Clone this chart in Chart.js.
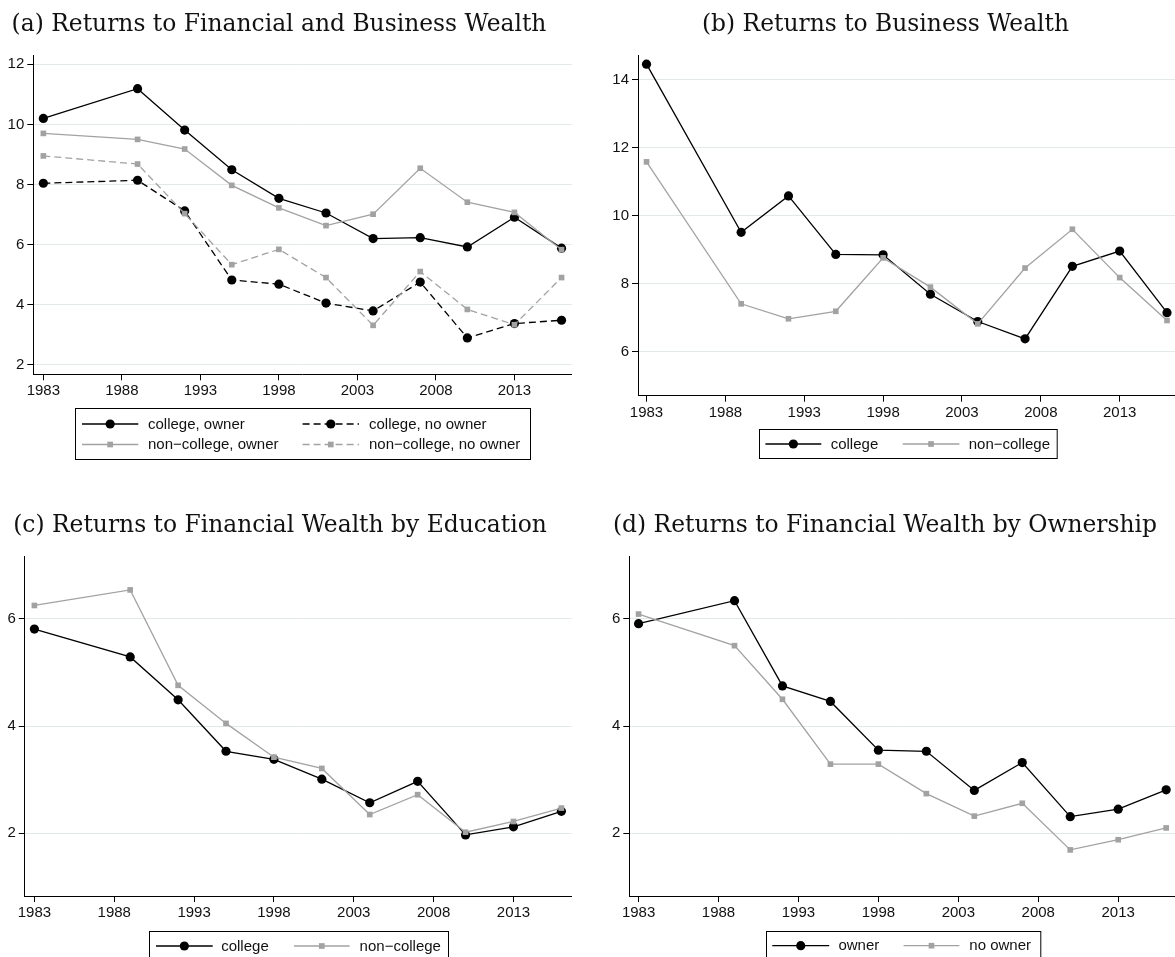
<!DOCTYPE html>
<html><head><meta charset="utf-8">
<script src="https://cdn.jsdelivr.net/npm/chart.js@4.4.0/dist/chart.umd.min.js"></script>
<style>
html,body{margin:0;padding:0;background:#fff;overflow:hidden;width:1175px;height:957px;position:relative;}
canvas.pane{position:absolute;}
</style></head><body>
<canvas id="ca" class="pane" style="left:0;top:0;width:590px;height:480px" width="590" height="480"></canvas>
<canvas id="cb" class="pane" style="left:590px;top:0;width:600px;height:480px" width="600" height="480"></canvas>
<canvas id="cc" class="pane" style="left:0;top:480px;width:590px;height:477px" width="590" height="477"></canvas>
<canvas id="cd" class="pane" style="left:590px;top:480px;width:600px;height:477px" width="600" height="477"></canvas>
<script>
// ---------- data ----------
const years = [1983,1989,1992,1995,1998,2001,2004,2007,2010,2013,2016];
const xTicks = [1983,1988,1993,1998,2003,2008,2013];

// (a) Returns to Financial and Business Wealth
const aCollegeOwner      = [10.20,11.19,9.81,8.49,7.54,7.05,6.20,6.23,5.92,6.91,5.88];
const aCollegeNoOwner    = [8.04,8.14,7.12,4.82,4.68,4.05,3.79,4.75,2.89,3.37,3.48];
const aNonCollegeOwner   = [9.70,9.50,9.18,7.97,7.22,6.63,7.01,8.54,7.41,7.07,5.83];
const aNonCollegeNoOwner = [8.95,8.68,7.03,5.33,5.84,4.90,3.31,5.10,3.84,3.33,4.90];
const aYTicks = [2,4,6,8,10,12];

// (b) Returns to Business Wealth
const bCollege    = [14.45,9.51,10.58,8.86,8.85,7.69,6.89,6.38,8.51,8.96,7.15];
const bNonCollege = [11.58,7.41,6.97,7.19,8.76,7.90,6.82,8.46,9.60,8.18,6.92];
const bYTicks = [6,8,10,12,14];

// (c) Returns to Financial Wealth by Education
const cCollege    = [5.81,5.29,4.49,3.53,3.38,3.01,2.57,2.97,1.97,2.12,2.41];
const cNonCollege = [6.25,6.54,4.76,4.05,3.42,3.21,2.35,2.72,2.02,2.22,2.47];
const cYTicks = [2,4,6];

// (d) Returns to Financial Wealth by Ownership
const dOwner   = [5.91,6.34,4.75,4.46,3.55,3.53,2.80,3.32,2.31,2.45,2.81];
const dNoOwner = [6.09,5.50,4.50,3.29,3.29,2.74,2.32,2.56,1.69,1.88,2.10];
const dYTicks = [2,4,6];

// ---------- styling ----------
const BLACK = '#000000', GRAY = '#a2a2a2';
const SANS = '"Liberation Sans", Arial, Helvetica, sans-serif';
const SERIF = '"DejaVu Serif", serif';

function series(label, vals, black, dashed){
  const c = black ? BLACK : GRAY;
  return {
    label, data: years.map((x,i)=>({x:x, y:vals[i]})),
    borderColor:c, backgroundColor:c, borderWidth:1.3,
    borderDash: dashed ? [7,4] : [],
    pointStyle: black ? 'circle' : 'rect',
    pointRadius: black ? 4.6 : 4.0, pointHoverRadius: black ? 4.6 : 4.0,
    pointBorderWidth:0, pointBackgroundColor:c,
    tension:0, order: black ? 1 : 0, clip:false
  };
}

function scales(xMin, xMax, yMin, yMax, yTicks, yWidth){
  return {
    x:{type:'linear', min:xMin, max:xMax,
      afterBuildTicks:s=>{ s.ticks = xTicks.map(v=>({value:v})); },
      afterFit:s=>{ s.height = 30; },
      grid:{drawOnChartArea:false, drawTicks:true, tickLength:6, tickColor:'#000', tickWidth:1},
      border:{display:true, color:'#000', width:1},
      ticks:{color:'#111', font:{family:SANS, size:15}, padding:2, maxRotation:0, autoSkip:false,
             callback:v=>String(v)}
    },
    y:{type:'linear', min:yMin, max:yMax,
      afterBuildTicks:s=>{ s.ticks = yTicks.map(v=>({value:v})); },
      afterFit:s=>{ s.width = yWidth; },
      grid:{color:'#e3e9eb', lineWidth:1, drawTicks:true, tickLength:6, tickColor:'#000', tickWidth:1},
      border:{display:true, color:'#000', width:1},
      ticks:{color:'#111', font:{family:SANS, size:15}, padding:3, callback:v=>String(v)}
    }
  };
}

const boxLegend = {
  id:'boxLegend',
  afterDraw(chart, args, o){
    const ctx = chart.ctx; ctx.save();
    ctx.strokeStyle = '#000'; ctx.lineWidth = 1; ctx.setLineDash([]);
    ctx.strokeRect(Math.round(o.box[0])+0.5, Math.round(o.box[1])+0.5, o.box[2], o.box[3]);
    ctx.font = '15px ' + SANS; ctx.textBaseline = 'middle'; ctx.textAlign = 'left';
    o.items.forEach(it=>{
      const ds = chart.data.datasets[it.ds];
      ctx.strokeStyle = ds.borderColor; ctx.lineWidth = ds.borderWidth;
      ctx.setLineDash(ds.borderDash || []);
      ctx.beginPath(); ctx.moveTo(it.x1, it.y); ctx.lineTo(it.x2, it.y); ctx.stroke();
      ctx.setLineDash([]);
      const cx = (it.x1 + it.x2) / 2;
      ctx.fillStyle = ds.pointBackgroundColor;
      if (ds.pointStyle === 'circle') { ctx.beginPath(); ctx.arc(cx, it.y, ds.pointRadius, 0, Math.PI*2); ctx.fill(); }
      else { const h = ds.pointRadius * Math.SQRT1_2; ctx.fillRect(cx-h, it.y-h, 2*h, 2*h); }
      ctx.fillStyle = '#111';
      ctx.fillText(ds.label, it.tx, it.y + 0.5);
    });
    ctx.restore();
  }
};

const panelTitle = {
  id:'panelTitle',
  afterDraw(chart, args, o){
    const ctx = chart.ctx; ctx.save();
    ctx.font = o.size + 'px ' + SERIF; ctx.fillStyle = '#111';
    ctx.textAlign = 'center'; ctx.textBaseline = 'alphabetic';
    ctx.fillText(o.text, o.x, o.y);
    ctx.restore();
  }
};

function make(id, datasets, sc, pad, title, legend){
  new Chart(document.getElementById(id), {
    type:'line',
    data:{datasets},
    plugins:[boxLegend, panelTitle],
    options:{
      responsive:false, animation:false, devicePixelRatio:1,
      layout:{padding:pad},
      scales:sc,
      plugins:{legend:{display:false}, tooltip:{enabled:false},
               boxLegend:legend, panelTitle:title},
      events:[]
    }
  });
}

const TSIZE = 23.4;

make('ca', [
  series('college, owner', aCollegeOwner, true, false),
  series('college, no owner', aCollegeNoOwner, true, true),
  series('non\u2212college, owner', aNonCollegeOwner, false, false),
  series('non\u2212college, no owner', aNonCollegeNoOwner, false, true)
], scales(1982.36, 2016.64, 1.68, 12.31, aYTicks, 33.3), {left:0, top:55, right:18.4, bottom:75.7},
{text:'(a) Returns to Financial and Business Wealth', x:279, y:31, size:TSIZE},
{box:[75,408,455,51], items:[
  {ds:0, x1:82, x2:138.3, y:424, tx:148},
  {ds:1, x1:302.6, x2:359, y:424, tx:369},
  {ds:2, x1:82, x2:138.3, y:444.5, tx:148},
  {ds:3, x1:302.6, x2:359, y:444.5, tx:369}
]});

make('cb', [
  series('college', bCollege, true, false),
  series('non\u2212college', bNonCollege, false, false)
], scales(1982.46, 2016.64, 4.71, 14.72, bYTicks, 48), {left:0, top:55, right:12.9, bottom:54.3},
{text:'(b) Returns to Business Wealth', x:295.5, y:31, size:TSIZE},
{box:[168.7,429.3,297.7,29], items:[
  {ds:0, x1:175.4, x2:231.3, y:444, tx:240.7},
  {ds:1, x1:312.7, x2:369.4, y:444, tx:378.7}
]});

make('cc', [
  series('college', cCollege, true, false),
  series('non\u2212college', cNonCollege, false, false)
], scales(1982.4, 2016.64, 0.83, 7.16, cYTicks, 24.8), {left:0, top:76.7, right:18.4, bottom:31},
{text:'(c) Returns to Financial Wealth by Education', x:280, y:51.7, size:TSIZE},
{box:[148.7,451,299,40], items:[
  {ds:0, x1:156, x2:212.7, y:466, tx:221.2},
  {ds:1, x1:294, x2:349.6, y:466, tx:359.6}
]});

make('cd', [
  series('owner', dOwner, true, false),
  series('no owner', dNoOwner, false, false)
], scales(1982.42, 2016.64, 0.83, 7.16, dYTicks, 39.3), {left:0, top:76.7, right:13.6, bottom:31},
{text:'(d) Returns to Financial Wealth by Ownership', x:295, y:51.7, size:TSIZE},
{box:[175.7,451,274.3,40], items:[
  {ds:0, x1:182.3, x2:239.2, y:465.7, tx:248.4},
  {ds:1, x1:313.6, x2:369.4, y:465.7, tx:379.3}
]});
</script>
</body></html>
